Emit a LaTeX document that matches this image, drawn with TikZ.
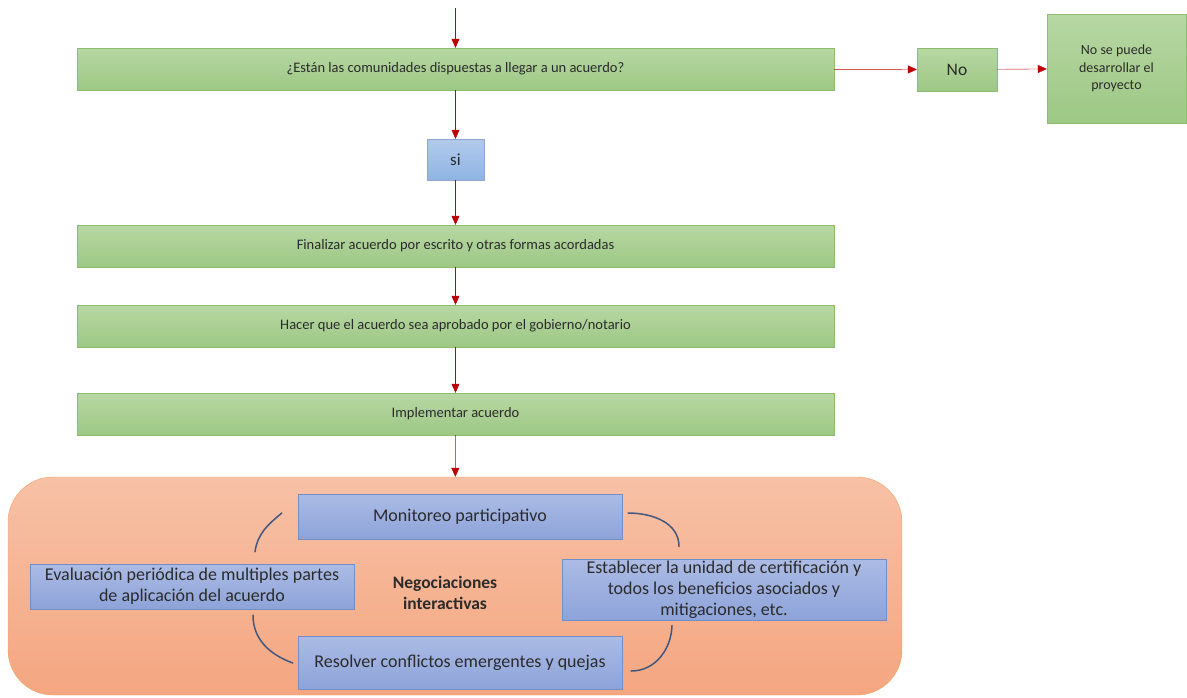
\documentclass[tikz,border=0pt]{standalone}
\usepackage{fontspec}
\setmainfont{Carlito}
\usepackage{tikz}
\usepackage{xcolor}
\usetikzlibrary{arrows.meta}
\definecolor{greenTop}{HTML}{B7D7A3}
\definecolor{greenBot}{HTML}{9DC884}
\definecolor{greenLine}{HTML}{8DBD70}
\definecolor{blueTop}{HTML}{ABBBE4}
\definecolor{blueBot}{HTML}{8DA3D9}
\definecolor{blueLine}{HTML}{6F8FCB}
\definecolor{skyTop}{HTML}{B2CBEC}
\definecolor{skyBot}{HTML}{8FB4E3}
\definecolor{orangeTop}{HTML}{F7C1A6}
\definecolor{orangeBot}{HTML}{F4A680}
\definecolor{orangeLine}{HTML}{F2A060}
\definecolor{arrowRed}{HTML}{C00000}
\definecolor{loopBlue}{HTML}{44577F}
\definecolor{textGrey}{HTML}{2B2B2B}
\tikzset{
    green-box/.style = {draw=greenLine, top color=greenTop, bottom color=greenBot, rectangle, inner sep=2pt, text=textGrey, align=center},
    wide-box/.style = {green-box, minimum width=757pt, minimum height=42pt, font=\fontsize{14.5}{17}\selectfont},
    blue-box/.style = {draw=blueLine, top color=blueTop, bottom color=blueBot, rectangle, inner xsep=2pt, inner ysep=0pt, minimum width=324pt, text=textGrey, align=center, font=\fontsize{18}{21}\selectfont},
    sky-box/.style = {draw=blueLine!80, top color=skyTop, bottom color=skyBot, rectangle, inner sep=2pt, text=textGrey},
    flow-arrow/.style = {draw=arrowRed, thin, -{Triangle[length=9pt,width=8pt]}, arrowRed},
    loop-line/.style = {draw=loopBlue, line width=1.5pt, line cap=round},
}

\begin{document}
\begin{tikzpicture}[x=1pt,y=-1pt]
\useasboundingbox (0,0) rectangle (1187,697);

% upper flow
\coordinate (start) at (455.5,8);
\node [wide-box] (question) at (455.5,69) {¿Están las comunidades dispuestas a llegar a un acuerdo?};
\node [green-box, minimum width=80pt, minimum height=43pt, font=\fontsize{17.5}{20}\selectfont] (no) at (957,69.5) {No};
\node [green-box, minimum width=139pt, minimum height=109pt, font=\fontsize{14}{17.5}\selectfont] (stop) at (1116.5,68.5) {No se puede\\desarrollar el\\proyecto};
\node [sky-box, minimum width=57pt, minimum height=41pt, font=\fontsize{17}{20}\selectfont] (si) at (455.5,159.5) {si};
\node [wide-box] (finalize) at (455.5,246) {Finalizar acuerdo por escrito y otras formas acordadas};
\node [wide-box] (approve) at (455.5,326) {Hacer que el acuerdo sea aprobado por el gobierno/notario};
\node [wide-box] (implement) at (455.5,414) {Implementar acuerdo};

% negotiation panel
\node [draw=orangeLine, top color=orangeTop, bottom color=orangeBot, rectangle, rounded corners=45pt, minimum width=894pt, minimum height=218pt] (panel) at (455,586) {};
\node [blue-box, minimum height=45pt] (monitor) at (460,516.5) {Monitoreo participativo};
\node [blue-box, minimum height=45pt] (evaluate) at (192,586.5) {Evaluación periódica de multiples partes\\de aplicación del acuerdo};
\node [blue-box, minimum height=61pt] (certify) at (724,590) {Establecer la unidad de certificación y\\todos los beneficios asociados y\\mitigaciones, etc.};
\node [blue-box, minimum height=53pt] (resolve) at (460,662.5) {Resolver conflictos emergentes y quejas};
\node [align=center, text=textGrey, font=\bfseries\fontsize{17.5}{21}\selectfont] (negotiate) at (445,592.5) {Negociaciones\\interactivas};

% arrows
\draw [flow-arrow] (start) -- (question);
\draw [flow-arrow] (question) -- (no);
\draw [flow-arrow] (no) -- (stop);
\draw [flow-arrow] (question) -- (si);
\draw [flow-arrow] (si) -- (finalize);
\draw [flow-arrow] (finalize) -- (approve);
\draw [flow-arrow] (approve) -- (implement);
\draw [flow-arrow] (implement) -- (panel);

% cycle
\draw [loop-line] ([xshift=63pt,yshift=12pt]evaluate.north) to[out=82,in=220] ([xshift=-16pt,yshift=3.5pt]monitor.west);
\draw [loop-line] ([xshift=6pt,yshift=3.5pt]monitor.east) to[out=0,in=90] ([xshift=-45pt,yshift=13pt]certify.north);
\draw [loop-line] ([xshift=-52pt,yshift=-5pt]certify.south) to[out=-92,in=0] ([xshift=9pt,yshift=-8.5pt]resolve.east);
\draw [loop-line] ([xshift=-5pt,yshift=-0.5pt]resolve.west) to[out=160,in=-90] ([xshift=61pt,yshift=-6pt]evaluate.south);
\end{tikzpicture}
\end{document}
